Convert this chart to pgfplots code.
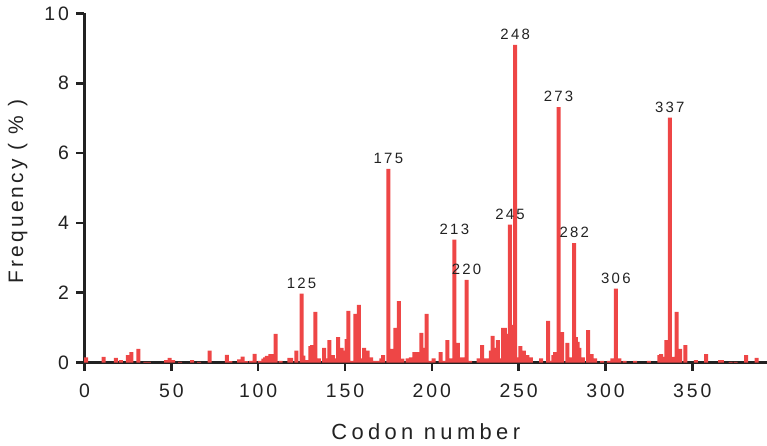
\documentclass[border=0pt]{standalone}
\usepackage{pgfplots}
\pgfplotsset{compat=1.18}
\usepackage{pgfplotstable}
\usepackage{fontspec}
\setmainfont{Liberation Sans}
\newfontfamily\spaced[LetterSpace=15]{Liberation Sans}
\newfontfamily\widespaced[LetterSpace=20]{Liberation Sans}
\definecolor{barred}{HTML}{EE4646}
\definecolor{axisdark}{HTML}{222222}

% Mutation frequency (%) per codon
\pgfplotstableread{
codon freq
1 0.15
11 0.16
18 0.13
21 0.07
25 0.21
27 0.30
31 0.39
35 0.02
37 0.02
47 0.07
49 0.13
51 0.07
55 0.02
62 0.07
66 0.02
72 0.34
82 0.22
84 0.04
89 0.09
91 0.17
93 0.04
96 0.05
98 0.25
101 0.05
103 0.11
104 0.15
105 0.19
107 0.24
108 0.24
110 0.82
113 0.05
118 0.13
119 0.13
122 0.34
125 1.97
126 0.20
128 0.07
130 0.47
131 0.50
133 1.45
135 0.12
138 0.42
140 0.12
141 0.64
143 0.21
144 0.12
146 0.73
148 0.42
149 0.12
150 0.34
151 0.67
152 1.48
154 0.05
156 1.39
158 1.65
159 0.12
161 0.42
163 0.34
165 0.15
167 0.05
169 0.05
171 0.12
172 0.21
175 5.55
177 0.39
179 0.99
181 1.76
183 0.11
186 0.12
188 0.15
190 0.30
192 0.30
194 0.85
195 0.42
197 1.39
199 0.05
201 0.12
205 0.30
207 0.05
209 0.64
211 0.12
213 3.52
215 0.56
217 0.15
218 0.15
220 2.37
222 0.05
227 0.12
229 0.50
231 0.12
232 0.12
234 0.34
235 0.76
237 0.42
238 0.64
240 0.12
241 0.99
242 0.99
243 0.82
245 3.95
246 1.08
248 9.10
250 0.15
251 0.47
252 0.12
253 0.34
255 0.21
256 0.15
257 0.15
263 0.12
267 1.19
269 0.05
270 0.21
271 0.30
273 7.32
275 0.87
278 0.56
280 0.15
282 3.42
283 0.73
284 0.59
285 0.42
287 0.15
290 0.93
292 0.24
294 0.12
298 0.05
302 0.05
304 0.12
306 2.12
308 0.12
311 0.05
317 0.05
325 0.05
331 0.21
332 0.24
333 0.16
335 0.64
337 7.02
339 0.16
341 1.45
343 0.39
346 0.50
352 0.07
358 0.24
366 0.07
367 0.07
372 0.02
375 0.02
381 0.21
387 0.13
}\codonfreq

\begin{document}
\begin{tikzpicture}
\begin{axis}[
  scale only axis,
  width=682.5bp, height=349bp,
  xmin=0, xmax=393, ymin=0, ymax=10,
  axis x line=bottom, axis y line=left,
  axis line style={-, line width=2.6bp, draw=axisdark},
  xtick={0,50,...,350}, ytick={0,2,...,10},
  minor tick num=0,
  tick align=outside, major tick length=8bp,
  every tick/.style={draw=axisdark, line width=2.6bp},
  /pgf/number format/assume math mode=true,
  tick label style={font=\spaced\fontsize{19.5}{19.5}\selectfont, text=axisdark},
  xticklabel style={anchor=north, yshift=-10bp},
  yticklabel style={anchor=east, xshift=-4bp},
  xlabel={Codon number},
  ylabel={Frequency ( \% )},
  label style={font=\spaced\fontsize{21}{21}\selectfont, text=axisdark},
  xlabel style={at={(axis description cs:0.5,-0.222)}, anchor=base,
    font=\widespaced\fontsize{22}{22}\selectfont},
  ylabel style={at={(axis description cs:-0.09,0.49)}, anchor=base},
  clip=false,
]
\addplot[ybar, bar width=2.3, fill=barred, draw=none] table[x=codon, y=freq] {\codonfreq};

\begin{scope}[every node/.style={font=\spaced\fontsize{15}{15}\selectfont, text=axisdark, anchor=south, inner sep=0pt, yshift=5bp}]
\node at (axis cs:125,1.97) {125};
\node at (axis cs:175,5.55) {175};
\node at (axis cs:213,3.52) {213};
\node at (axis cs:220,2.37) {220};
\node at (axis cs:245,3.95) {245};
\node at (axis cs:248,9.10) {248};
\node at (axis cs:273,7.32) {273};
\node at (axis cs:282,3.42) {282};
\node at (axis cs:306,2.12) {306};
\node at (axis cs:337,7.02) {337};
\end{scope}
\end{axis}
\pgfresetboundingbox
\path[use as bounding box] (-84.5bp,-83.5bp) rectangle (682.5bp,362.5bp);
\end{tikzpicture}
\end{document}
